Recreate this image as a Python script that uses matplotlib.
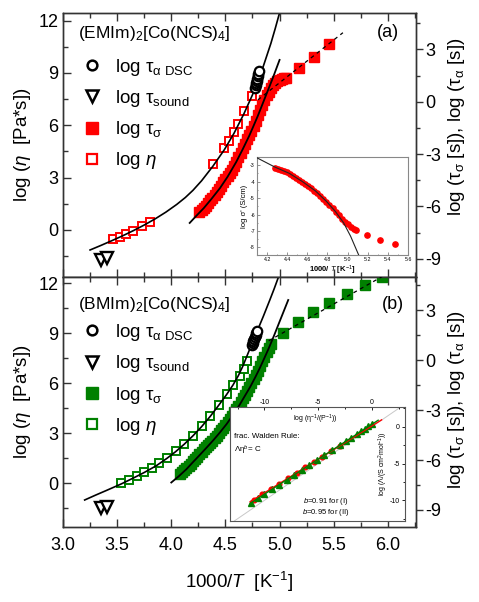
import matplotlib
matplotlib.use("Agg")
import matplotlib.pyplot as plt
from matplotlib.lines import Line2D
from matplotlib.ticker import MultipleLocator

plt.rcParams['font.family'] = ['Liberation Sans', 'DejaVu Sans']
plt.rcParams['mathtext.fontset'] = 'custom'
plt.rcParams['mathtext.rm'] = 'Liberation Sans'
plt.rcParams['mathtext.it'] = 'Liberation Sans:italic'
plt.rcParams['axes.unicode_minus'] = False

RED, GREEN = "#ff0000", "#008000"
OFF_A, OFF_B = 7.35, 7.38   # left (log eta) minus right (log tau)

# ---------------- panel (a): (EMIm)2[Co(NCS)4] ----------------
a_eta_x = [3.46, 3.53, 3.58, 3.65, 3.73, 3.80, 4.385, 4.49, 4.533, 4.58, 4.616, 4.671, 4.745]
a_eta_y = [-0.52, -0.40, -0.23, -0.06, 0.23, 0.46, 3.80, 4.68, 5.10, 5.62, 6.10, 6.80, 7.70]
a_etafit_x = [3.25, 3.35, 3.45, 3.55, 3.65, 3.75, 3.85, 3.95, 4.05, 4.13, 4.20, 4.28, 4.385,
              4.49, 4.58, 4.67, 4.75, 4.84, 4.92, 4.96, 5.00]
a_etafit_y = [-1.15, -0.89, -0.62, -0.34, -0.04, 0.28, 0.63, 1.02, 1.46, 1.86, 2.27, 2.82, 3.66,
              4.6, 5.55, 6.65, 7.75, 9.2, 10.7, 11.55, 12.45]
a_dsc_x = [4.775, 4.78, 4.785, 4.79, 4.795, 4.80, 4.805, 4.81]
a_dsc_y = [0.80, 0.95, 1.08, 1.20, 1.33, 1.46, 1.60, 1.74]
a_sound_x = [3.35, 3.41]
a_sound_y = [-9.05, -8.95]
a_band_x = [4.26, 4.28, 4.30, 4.32, 4.34, 4.36, 4.38, 4.40, 4.42, 4.44, 4.46, 4.48, 4.50, 4.52,
            4.54, 4.56, 4.58, 4.60, 4.62, 4.64, 4.66, 4.68, 4.70, 4.72, 4.74, 4.76, 4.78, 4.80,
            4.82, 4.84, 4.86, 4.88, 4.90, 4.92, 4.94, 4.96, 4.98, 5.00, 5.02, 5.04, 5.06]
a_band_y = [-6.35, -6.23, -6.10, -5.97, -5.82, -5.66, -5.50, -5.33, -5.15, -4.98, -4.81, -4.63,
            -4.45, -4.26, -4.08, -3.90, -3.68, -3.43, -3.17, -2.92, -2.66, -2.40, -2.15, -1.91,
            -1.67, -1.39, -1.10, -0.78, -0.48, -0.18, 0.10, 0.36, 0.58, 0.78, 0.94, 1.06, 1.17,
            1.25, 1.30, 1.34, 1.36]
a_sig_x = [5.18, 5.32, 5.46]
a_sig_y = [1.95, 2.59, 3.33]
a_sigfit_x = [4.17, 4.23, 4.30, 4.37, 4.45, 4.52, 4.60, 4.66, 4.72, 4.76, 4.80, 4.87, 4.94, 5.00]
a_sigfit_y = [-6.95, -6.55, -6.1, -5.58, -4.95, -4.3, -3.45, -2.72, -1.95, -1.38, -0.8, 0.3, 1.4, 2.4]
a_arr_x = [4.80, 5.585]
a_arr_y = [0.11, 3.96]

# inset (a): conductivity
ia_x = [4.28, 4.31, 4.34, 4.37, 4.40, 4.43, 4.46, 4.49, 4.52, 4.55, 4.58, 4.61, 4.64, 4.67,
        4.70, 4.73, 4.76, 4.79, 4.82, 4.85, 4.88, 4.91, 4.94, 4.97, 5.00, 5.03, 5.06, 5.08,
        5.19, 5.32, 5.47]
ia_y = [-3.14, -3.21, -3.28, -3.36, -3.44, -3.54, -3.64, -3.75, -3.87, -4.00, -4.13, -4.26, -4.40, -4.55,
        -4.71, -4.87, -5.04, -5.22, -5.42, -5.62, -5.85, -6.05, -6.26, -6.44, -6.60, -6.73, -6.85, -6.92,
        -7.22, -7.52, -7.82]
ia_fit_x = [4.10, 4.28, 4.42, 4.55, 4.68, 4.79, 4.88, 4.96, 5.03, 5.11]
ia_fit_y = [-2.55, -3.12, -3.49, -3.99, -4.56, -5.2, -5.82, -6.5, -7.32, -8.46]

# ---------------- panel (b): (BMIm)2[Co(NCS)4] ----------------
b_eta_x = [3.54, 3.61, 3.68, 3.75, 3.82, 3.89, 3.96, 4.04, 4.12, 4.20, 4.28, 4.36, 4.44, 4.51,
           4.57, 4.63, 4.67, 4.70]
b_eta_y = [-0.02, 0.2, 0.42, 0.65, 0.9, 1.18, 1.5, 1.9, 2.35, 2.85, 3.4, 4.0, 4.7, 5.35,
           5.9, 6.4, 6.85, 7.3]
b_etafit_x = [3.20, 3.30, 3.40, 3.54, 3.65, 3.75, 3.86, 3.96, 4.04, 4.12, 4.20, 4.28, 4.36, 4.44,
              4.51, 4.57, 4.62, 4.66, 4.71, 4.76, 4.80, 4.85, 4.91, 4.95, 4.99]
b_etafit_y = [-1.02, -0.73, -0.45, -0.05, 0.3, 0.63, 1.03, 1.48, 1.88, 2.33, 2.83, 3.38, 4.0, 4.68,
              5.3, 5.88, 6.45, 7.0, 7.8, 8.6, 9.22, 10.0, 10.98, 11.65, 12.36]
b_dsc_x = [4.745, 4.752, 4.758, 4.765, 4.772, 4.778, 4.785, 4.79]
b_dsc_y = [0.90, 1.02, 1.14, 1.26, 1.38, 1.50, 1.62, 1.75]
b_sound_x = [3.35, 3.41]
b_sound_y = [-8.9, -8.8]
b_band_x = [4.08, 4.10, 4.12, 4.14, 4.16, 4.18, 4.20, 4.22, 4.24, 4.26, 4.28, 4.30, 4.32, 4.34,
            4.36, 4.38, 4.40, 4.42, 4.44, 4.46, 4.48, 4.50, 4.52, 4.54, 4.56, 4.58, 4.60, 4.62,
            4.64, 4.66, 4.68, 4.70, 4.72, 4.74, 4.76, 4.78, 4.80, 4.82, 4.84, 4.86, 4.88, 4.90, 4.92]
b_band_y = [-6.85, -6.74, -6.62, -6.50, -6.37, -6.23, -6.08, -5.93, -5.79, -5.64, -5.50, -5.36,
            -5.23, -5.10, -4.96, -4.83, -4.69, -4.55, -4.39, -4.22, -4.05, -3.88, -3.70, -3.52,
            -3.33, -3.14, -2.94, -2.73, -2.52, -2.30, -2.08, -1.86, -1.63, -1.40, -1.15, -0.90,
            -0.63, -0.36, -0.08, 0.20, 0.47, 0.72, 0.95]
b_sig_x = [5.03, 5.173, 5.311, 5.459, 5.62, 5.789, 5.945]
b_sig_y = [1.65, 2.31, 2.91, 3.45, 3.97, 4.51, 4.98]
b_sigfit_x = [4.00, 4.07, 4.14, 4.20, 4.27, 4.33, 4.39, 4.45, 4.51, 4.57, 4.63, 4.68, 4.73, 4.78,
              4.82, 4.86, 4.90, 4.95, 5.00, 5.04, 5.08]
b_sigfit_y = [-7.35, -6.97, -6.55, -6.13, -5.65, -5.23, -4.8, -4.34, -3.85, -3.3, -2.7, -2.15, -1.6,
              -0.98, -0.45, 0.12, 0.7, 1.48, 2.3, 2.95, 3.6]
b_arr_x = [4.90, 6.0]
b_arr_y = [1.15, 5.2]

# inset (b): fractional Walden plot
w_red_x = [-11.0, -10.2, -9.4, -8.6, -7.8, -7.0, -6.2, -5.4, -4.6, -3.8, -3.0]
w_red_y = [-9.89, -9.16, -8.43, -7.71, -6.98, -6.25, -5.52, -4.79, -4.07, -3.34, -2.61]
w_grn_x = [-11.2, -10.6, -10.0, -9.3, -8.6, -7.9, -7.2, -6.5, -5.8, -5.1, -4.4, -3.7, -3.0,
           -2.4, -1.9, -1.4, -1.0, -0.6, -0.3, 0.0]
w_grn_y = [-10.31, -9.74, -9.17, -8.5, -7.84, -7.17, -6.51, -5.85, -5.18, -4.52, -3.85, -3.19, -2.52,
           -1.95, -1.48, -1.0, -0.62, -0.24, 0.05, 0.33]
w_redfit_x, w_redfit_y = [-11.33, 0.92], [-10.19, 0.95]
w_grnfit_x, w_grnfit_y = [-11.3, 0.6], [-10.4, 0.9]
w_diag_x, w_diag_y = [-13.2, 2.8], [-13.2, 2.8]

fig = plt.figure(figsize=(4.79, 6.02), dpi=100)
W, H = 479, 602


def px_rect(x0, y0, x1, y1):
    return [x0 / W, 1 - y1 / H, (x1 - x0) / W, (y1 - y0) / H]


FS = 13.5


def panel(rect, ylim, off, col, d, title, tag, tag_xy, title_y, leg_y, rlab_y, bottom):
    ax = fig.add_axes(rect)
    ax.set_xlim(3.0, 6.26)
    ax.set_ylim(*ylim)
    axr = ax.twinx()
    axr.set_ylim(ylim[0] - off, ylim[1] - off)
    for a in (ax, axr):
        for s in a.spines.values():
            s.set_color("#333333"); s.set_linewidth(1.0)
    ax.xaxis.set_major_locator(MultipleLocator(0.5))
    ax.xaxis.set_minor_locator(MultipleLocator(0.25))
    ax.yaxis.set_major_locator(MultipleLocator(3))
    ax.yaxis.set_minor_locator(MultipleLocator(1.5))
    axr.yaxis.set_major_locator(MultipleLocator(3))
    axr.yaxis.set_minor_locator(MultipleLocator(1.5))
    ax.tick_params(which="both", direction="in", top=True, labelsize=13, width=1, color="#333333")
    ax.tick_params(axis="x", pad=7)
    ax.tick_params(which="major", length=6)
    ax.tick_params(which="minor", length=3.5)
    axr.tick_params(which="both", direction="out", labelsize=13, width=1, color="#333333", pad=2)
    axr.tick_params(which="major", length=5)
    axr.tick_params(which="minor", length=3)
    if not bottom:
        ax.set_xticklabels([])
    ax.set_ylabel("log ($\\mathit{η}$  [Pa*s])", fontsize=FS, labelpad=4)
    axr.set_ylabel("log (τ$_{\\mathrm{σ}}$ [s]), log (τ$_{\\mathrm{α}}$ [s])", fontsize=FS,
                   rotation=90)
    axr.yaxis.set_label_coords(1.085, rlab_y)

    # log eta (left axis)
    ax.plot(d["eta_x"], d["eta_y"], ls="none", marker="s", ms=6.3, mfc="white", mec=col, mew=1.4, zorder=3)
    ax.plot(d["etafit_x"], d["etafit_y"], color="k", lw=1.2, zorder=4)
    # tau data (right axis)
    axr.plot(d["band_x"], d["band_y"], ls="none", marker="s", ms=7.6, color=col, zorder=2)
    axr.plot(d["sig_x"], d["sig_y"], ls="none", marker="s", ms=7.3, color=col, zorder=2)
    axr.plot(d["sigfit_x"], d["sigfit_y"], color="k", lw=1.3, zorder=4)
    axr.plot(d["arr_x"], d["arr_y"], color="k", lw=0.9, ls=(0, (3, 3)), zorder=4)
    axr.plot(d["dsc_x"], d["dsc_y"], ls="none", marker="o", ms=6.8, mfc="white", mec="k", mew=1.6, zorder=5)
    axr.plot(d["sound_x"], d["sound_y"], ls="none", marker="v", ms=8, mfc="white", mec="k", mew=1.7, zorder=5)

    axr.text(0.042, title_y, title, transform=ax.transAxes, fontsize=12.5, va="center", ha="left")
    axr.text(tag_xy[0], tag_xy[1], tag, transform=ax.transAxes, fontsize=13, va="center", ha="center")

    handles = [
        Line2D([], [], ls="none", marker="o", ms=7, mfc="white", mec="k", mew=1.8),
        Line2D([], [], ls="none", marker="v", ms=9, mfc="white", mec="k", mew=1.8),
        Line2D([], [], ls="none", marker="s", ms=8, color=col),
        Line2D([], [], ls="none", marker="s", ms=7.5, mfc="white", mec=col, mew=1.6),
    ]
    labels = ["log τ$_{\\mathrm{α\\ DSC}}$", "log τ$_{\\mathrm{sound}}$", "log τ$_{\\mathrm{σ}}$",
              "log $\\mathit{η}$"]
    axr.legend(handles, labels, loc="upper left", bbox_to_anchor=(0.062, leg_y), frameon=False,
               fontsize=FS, handlelength=0.8, handletextpad=0.8, labelspacing=0.55,
               borderaxespad=0, borderpad=0)
    return ax, axr


da = dict(eta_x=a_eta_x, eta_y=a_eta_y, etafit_x=a_etafit_x, etafit_y=a_etafit_y,
          dsc_x=a_dsc_x, dsc_y=a_dsc_y, sound_x=a_sound_x, sound_y=a_sound_y,
          band_x=a_band_x, band_y=a_band_y, sig_x=a_sig_x, sig_y=a_sig_y,
          sigfit_x=a_sigfit_x, sigfit_y=a_sigfit_y, arr_x=a_arr_x, arr_y=a_arr_y)
db = dict(eta_x=b_eta_x, eta_y=b_eta_y, etafit_x=b_etafit_x, etafit_y=b_etafit_y,
          dsc_x=b_dsc_x, dsc_y=b_dsc_y, sound_x=b_sound_x, sound_y=b_sound_y,
          band_x=b_band_x, band_y=b_band_y, sig_x=b_sig_x, sig_y=b_sig_y,
          sigfit_x=b_sigfit_x, sigfit_y=b_sigfit_y, arr_x=b_arr_x, arr_y=b_arr_y)

axa, axar = panel(px_rect(63, 13, 416, 277), (-2.70, 12.44), OFF_A, RED, da,
                  "(EMIm)$_2$[Co(NCS)$_4$]", "(a)", (0.92, 0.925), 0.924, 0.835, 0.57, False)
axb, axbr = panel(px_rect(63, 277, 416, 527), (-2.64, 12.36), OFF_B, GREEN, db,
                  "(BMIm)$_2$[Co(NCS)$_4$]", "(b)", (0.935, 0.89), 0.888, 0.82, 0.51, True)
axb.set_xlabel("1000/$\\mathit{T}$  [K$^{-1}$]", fontsize=FS, labelpad=12)

# ---- inset (a): log sigma' vs 1000/T ----
ia = fig.add_axes(px_rect(257, 157, 408, 255))
ia.set_facecolor("white")
ia.plot(ia_x, ia_y, ls="none", marker="o", ms=3.8, color=RED, zorder=2)
ia.plot(ia_fit_x, ia_fit_y, color="#222222", lw=0.8, zorder=3)
ia.set_xlim(4.1, 5.6)
ia.set_ylim(-8.46, -2.5)
ia.set_xticks([4.2, 4.4, 4.6, 4.8, 5.0, 5.2, 5.4, 5.6])
ia.set_yticks([-3, -4, -5, -6, -7, -8])
ia.xaxis.set_minor_locator(MultipleLocator(0.1))
ia.yaxis.set_minor_locator(MultipleLocator(0.5))
ia.tick_params(which="both", direction="in", labelsize=3.8, pad=1.5, width=0.5, color="#666666")
ia.tick_params(which="major", length=2)
ia.tick_params(which="minor", length=1)
for s in ia.spines.values():
    s.set_color("#888888"); s.set_linewidth(0.8)
ia.set_xlabel("1000/ $\\mathit{T}$ [K$^{-1}$]", fontsize=5.5, fontweight="bold", labelpad=1)
ia.set_ylabel("log σ' (S/cm)", fontsize=5.5, labelpad=1.5)

# ---- inset (b): fractional Walden plot ----
wb = fig.add_axes(px_rect(230, 407, 405, 521))
wb.set_facecolor("white")
wb.plot(w_diag_x, w_diag_y, color="#c8c8c8", lw=0.7, zorder=1)
wb.plot(w_red_x, w_red_y, ls="none", marker="o", ms=3.4, color=RED, zorder=2)
wb.plot(w_grn_x, w_grn_y, ls="none", marker="^", ms=3.8, color=GREEN, zorder=3)
wb.plot(w_redfit_x, w_redfit_y, color=RED, lw=1.0, zorder=4)
wb.plot(w_grnfit_x, w_grnfit_y, color=GREEN, lw=1.0, zorder=4)
wb.set_xlim(-13.2, 3.1)
wb.set_ylim(-12.8, 2.7)
wb.set_xticks([-10, -5, 0])
wb.set_yticks([0, -5, -10])
wb.xaxis.set_minor_locator(MultipleLocator(2.5))
wb.yaxis.set_minor_locator(MultipleLocator(2.5))
wb.tick_params(axis="x", which="both", direction="in", bottom=False, top=True, labelbottom=False,
               labeltop=True, labelsize=5, pad=1, width=0.6)
wb.tick_params(axis="y", which="both", direction="in", left=False, right=True, labelleft=False,
               labelright=True, labelsize=5, pad=-4, width=0.6)
wb.tick_params(which="major", length=2.5)
wb.tick_params(which="minor", length=1.3)
for lab in wb.get_yticklabels():
    lab.set_horizontalalignment("right")
for s in wb.spines.values():
    s.set_color("#555555"); s.set_linewidth(0.8)
wb.text(0.486, 0.895, "log (η$^{-1}$/(P$^{-1}$))", transform=wb.transAxes, fontsize=5, ha="center", va="center")
wb.text(0.875, 0.5, "log (Λ/(S cm$^2$mol$^{-1}$))", transform=wb.transAxes, fontsize=5,
        rotation=90, ha="center", va="center")
wb.text(0.02, 0.737, "frac. Walden Rule:", transform=wb.transAxes, fontsize=5.8, ha="left", va="center")
wb.text(0.02, 0.62, "Λη$^{\\mathit{b}}$= C", transform=wb.transAxes, fontsize=5.8, ha="left", va="center")
wb.text(0.545, 0.17, "$\\mathit{b}$=0.91 for (I)", transform=wb.transAxes, fontsize=5.5, ha="center", va="center")
wb.text(0.545, 0.075, "$\\mathit{b}$=0.95 for (II)", transform=wb.transAxes, fontsize=5.5, ha="center", va="center")

fig.savefig("out.png", dpi=100)
